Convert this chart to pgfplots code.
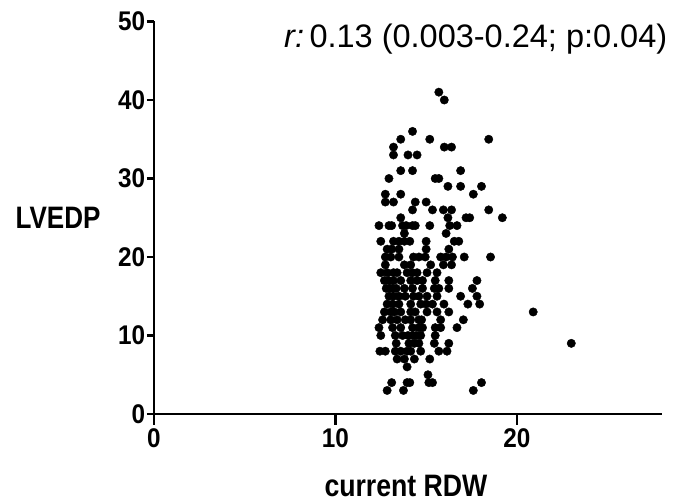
\documentclass[border=0pt]{standalone}
\usepackage{graphicx}
\usepackage{pgfplots}
\pgfplotsset{compat=1.18}
\usepackage{fontspec}
\setmainfont{Liberation Sans}
\begin{document}
\begin{tikzpicture}
\useasboundingbox (0,0) rectangle (688pt,503pt);
\begin{axis}[
  at={(154pt,89pt)}, anchor=south west,
  scale only axis, width=508pt, height=392.5pt,
  xmin=0, xmax=28, ymin=0, ymax=50,
  axis x line=bottom, axis y line=left,
  axis line style={-, line width=2.8pt, black},
  xtick={0,10,20}, ytick={0,10,20,30,40,50},
  tick align=outside,
  major tick style={line width=2.4pt, black},
  xtick style={/pgfplots/major tick length=11pt},
  ytick style={/pgfplots/major tick length=7pt},
  xticklabel={\scalebox{0.9}[1]{\fontsize{27}{27}\selectfont\bfseries\pgfmathprintnumber[assume math mode=true]{\tick}}},
  yticklabel={\scalebox{0.9}[1]{\fontsize{27}{27}\selectfont\bfseries\pgfmathprintnumber[assume math mode=true]{\tick}}},
  xticklabel style={yshift=-7pt},
  yticklabel style={xshift=-1pt},
  clip=false,
]
\addplot[only marks, mark=*, mark size=4.2pt, black] table {
x y
15.7 41
16.0 40
14.25 36
13.6 35
15.2 35
18.45 35
13.2 34
16.0 34
16.4 34
13.2 33
14.0 33
14.5 33
13.6 31
14.25 31
16.9 31
12.95 30
15.5 30
15.7 30
16.2 29
16.9 29
18.05 29
12.75 28
13.6 28
17.6 28
12.75 27
13.2 27
14.4 27
15.0 27
14.25 26
15.35 26
15.95 26
16.4 26
18.45 26
13.6 25
16.2 25
17.2 25
17.4 25
19.2 25
12.4 24
12.95 24
13.1 24
13.7 24
13.9 24
14.25 24
14.4 24
15.2 24
16.3 24
16.7 24
13.8 23
16.1 23
12.5 22
13.2 22
13.5 22
13.8 22
14.1 22
15.0 22
16.55 22
16.8 22
12.85 21
13.1 21
13.5 21
15.0 21
16.25 21
12.75 20
13.05 20
13.5 20
14.3 20
14.6 20
14.95 20
15.8 20
16.1 20
16.45 20
17.1 20
18.55 20
12.75 19
13.8 19
14.15 19
15.25 19
15.95 19
16.4 19
12.5 18
12.85 18
13.2 18
13.4 18
13.95 18
14.25 18
14.5 18
15.05 18
15.6 18
12.7 17
12.95 17
13.2 17
13.6 17
14.15 17
14.5 17
14.8 17
15.5 17
16.25 17
17.8 17
12.8 16
13.0 16
13.15 16
13.35 16
13.8 16
14.25 16
14.8 16
15.45 16
15.7 16
16.25 16
17.55 16
12.95 15
13.2 15
13.5 15
13.85 15
14.3 15
14.6 15
15.05 15
15.6 15
16.9 15
17.8 15
12.85 14
13.15 14
13.5 14
14.15 14
14.7 14
15.0 14
15.35 14
15.98 14
17.3 14
17.95 14
12.7 13
13.05 13
13.25 13
13.6 13
14.15 13
14.4 13
15.05 13
15.6 13
16.25 13
20.9 13
12.6 12
13.05 12
13.4 12
13.85 12
14.15 12
14.6 12
14.75 12
15.8 12
17.05 12
12.4 11
13.15 11
13.6 11
14.25 11
14.6 11
14.8 11
15.5 11
15.8 11
16.7 11
12.5 10
13.3 10
13.7 10
14.0 10
14.25 10
14.45 10
14.7 10
15.5 10
13.35 9
14.05 9
14.35 9
14.6 9
15.45 9
16.25 9
23.0 9
12.45 8
12.75 8
13.3 8
13.6 8
13.95 8
14.15 8
14.7 8
15.7 8
16.15 8
13.4 7
13.8 7
14.35 7
15.2 7
13.95 6
15.1 5
13.1 4
13.95 4
14.1 4
15.15 4
15.35 4
18.05 4
12.85 3
13.75 3
17.6 3
};
\node[anchor=base west, font=\fontsize{32.5}{32.5}\selectfont, inner sep=0pt]
  at (axis description cs:0.256,0.935) {\textit{r:}\,0.13 (0.003-0.24; p:0.04)};
\node[anchor=center, inner sep=0pt]
  at (axis description cs:-0.189,0.5) {\scalebox{0.84}[1]{\fontsize{31}{31}\selectfont\bfseries LVEDP}};
\node[anchor=base, inner sep=0pt]
  at (axis description cs:0.496,-0.211) {\scalebox{0.86}[1]{\fontsize{31}{31}\selectfont\bfseries current RDW}};
\end{axis}
\end{tikzpicture}
\end{document}
